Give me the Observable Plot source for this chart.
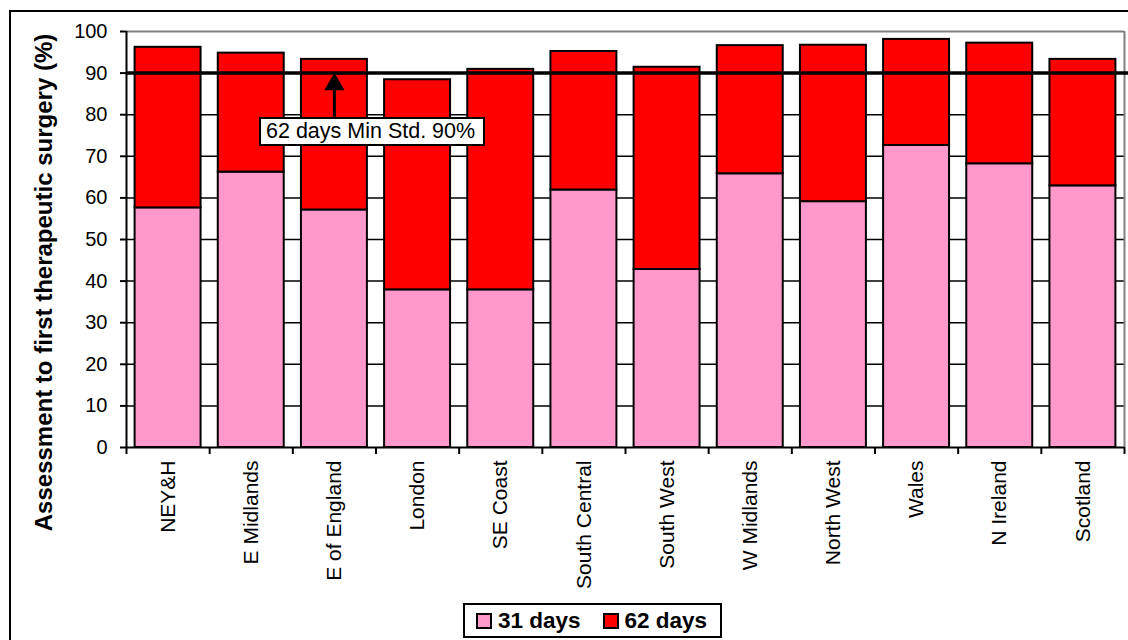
<!DOCTYPE html>
<html>
<head>
<meta charset="utf-8">
<script src="https://cdn.jsdelivr.net/npm/d3@7"></script>
<script src="https://cdn.jsdelivr.net/npm/@observablehq/plot@0.6"></script>
<style>
  html, body { margin: 0; padding: 0; background: #fff; }
  #wrap { position: relative; width: 1128px; height: 640px; overflow: hidden; font-family: "Liberation Sans", Arial, sans-serif; }
  #outer { position: absolute; left: 9px; top: 10px; width: 1140px; height: 700px; border: 2px solid #000; box-sizing: border-box; }
  #chart { position: absolute; left: 0; top: 0; }
  #note { position: absolute; left: 259px; top: 117px; width: 226px; height: 29px; box-sizing: border-box; border: 2px solid #000; background: #fff; font-size: 21.5px; line-height: 25px; padding-left: 5px; white-space: nowrap; color: #000; }
  #legend { position: absolute; left: 463px; top: 603px; width: 259px; height: 35px; box-sizing: border-box; border: 2px solid #000; background: #fff; display: flex; align-items: center; padding-left: 11px; font-weight: bold; font-size: 22.5px; color: #000; white-space: nowrap; }
  .sw { display: inline-block; flex: none; width: 16px; height: 16px; box-sizing: border-box; border: 2px solid #000; margin-right: 6px; }
  .item { display: flex; flex: none; align-items: center; margin-right: 22px; white-space: nowrap; }
</style>
</head>
<body>
<div id="wrap">
  <div id="outer"></div>
  <div id="chart"></div>
  <div id="note"></div>
  <div id="legend"></div>
</div>
<script>
// ---- data ----
const regions = ["NEY&H", "E Midlands", "E of England", "London", "SE Coast", "South Central", "South West", "W Midlands", "North West", "Wales", "N Ireland", "Scotland"];
const within31 = [57.6, 66.2, 57.1, 37.9, 37.9, 61.9, 42.8, 65.8, 59.1, 72.6, 68.2, 62.9];
const within62 = [96.2, 94.8, 93.3, 88.4, 90.9, 95.2, 91.4, 96.6, 96.7, 98.1, 97.2, 93.3];
const seriesNames = ["31 days", "62 days"];
const seriesColors = ["#ff99cc", "#ff0000"];
const yTicks = [0, 10, 20, 30, 40, 50, 60, 70, 80, 90, 100];
const standard = 90;
const standardLabel = "62 days Min Std. 90%";
const standardRegion = "E of England";
const yTitle = "Assessment to first therapeutic surgery (%)";

const rows = regions.map((r, i) => ({region: r, i, d31: within31[i], d62: within62[i]}));
const arrowX = regions.indexOf(standardRegion) + 0.5;
const boxTopValue = 79.4;

const plot = Plot.plot({
  width: 1128,
  height: 640,
  marginLeft: 126,
  marginRight: 4,
  marginTop: 31,
  marginBottom: 193,
  style: {fontFamily: "'Liberation Sans', Arial, sans-serif", background: "transparent", color: "#000"},
  x: {type: "linear", domain: [0, regions.length], axis: null},
  y: {domain: [0, 100], axis: null},
  marks: [
    Plot.ruleY(yTicks.filter(t => t > 0 && t < 100), {stroke: "#000", strokeWidth: 1.5}),
    Plot.ruleY([100], {stroke: "#808080", strokeWidth: 2}),
    Plot.ruleX([regions.length], {y1: 0, y2: 100, stroke: "#808080", strokeWidth: 2}),
    Plot.rect(rows, {x1: "i", x2: d => d.i + 1, y1: () => 0, y2: "d31", fill: seriesColors[0], stroke: "#000", strokeWidth: 2, insetLeft: 8.6, insetRight: 8.6}),
    Plot.rect(rows, {x1: "i", x2: d => d.i + 1, y1: "d31", y2: "d62", fill: seriesColors[1], stroke: "#000", strokeWidth: 2, insetLeft: 8.6, insetRight: 8.6}),
    Plot.ruleX([0], {y1: 0, y2: 100, stroke: "#000", strokeWidth: 2}),
    Plot.ruleY([0], {stroke: "#000", strokeWidth: 2}),
    Plot.ruleY([standard], {x1: 0, x2: regions.length + 0.05, stroke: "#000", strokeWidth: 3.5}),
    Plot.ruleX([arrowX], {y1: boxTopValue, y2: 87, stroke: "#000", strokeWidth: 3}),
    Plot.dot([arrowX], {x: d => d, y: () => standard, symbol: "triangle", r: 7.5, fill: "#000", stroke: "none", dy: 11.2}),
    Plot.axisY(yTicks, {tickSize: 6, tickPadding: 13, fontSize: 20, label: null, stroke: "#000", strokeWidth: 2}),
    Plot.axisX(d3.range(regions.length + 1), {tickSize: 7, tickFormat: () => "", label: null, stroke: "#000", strokeWidth: 2}),
    Plot.axisX(rows.map(d => d.i + 0.5), {tickSize: 0, tickPadding: 13, tickRotate: -90, fontSize: 21, label: null, tickFormat: v => regions[Math.floor(v)]}),
    Plot.text([yTitle], {frameAnchor: "left", rotate: -90, dx: -82, dy: 43, fontWeight: "bold", fontSize: 24, textAnchor: "middle", lineAnchor: "middle"})
  ]
});
document.getElementById("chart").appendChild(plot);

document.getElementById("note").textContent = standardLabel;
const legend = document.getElementById("legend");
seriesNames.forEach((name, k) => {
  const item = document.createElement("span");
  item.className = "item";
  const sw = document.createElement("span");
  sw.className = "sw";
  sw.style.background = seriesColors[k];
  item.appendChild(sw);
  item.appendChild(document.createTextNode(name));
  legend.appendChild(item);
});
</script>
</body>
</html>
